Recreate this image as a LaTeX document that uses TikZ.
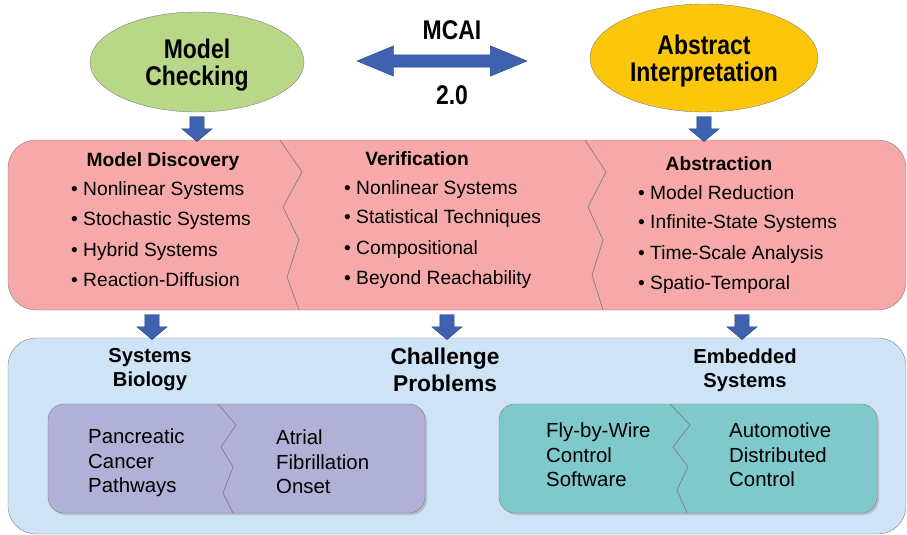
\documentclass[tikz,border=0pt]{standalone}
\usepackage{fontspec}
\setmainfont{Liberation Sans}
\newfontfamily\narrowfont[FakeStretch=0.85]{Liberation Sans}
\usetikzlibrary{shapes.geometric,shapes.arrows,shadows,calc}

\definecolor{mcgreen}{RGB}{184,215,135}
\definecolor{aiyellow}{RGB}{252,199,10}
\definecolor{arrblue}{RGB}{63,98,176}
\definecolor{arrdark}{RGB}{38,62,125}
\definecolor{boxpink}{RGB}{246,169,168}
\definecolor{boxblue}{RGB}{207,227,246}
\definecolor{boxpurple}{RGB}{177,176,214}
\definecolor{boxteal}{RGB}{127,200,203}
\definecolor{rimgray}{RGB}{128,128,128}

\tikzset{
  bubble/.style={ellipse, draw=rimgray, inner sep=0pt},
  bigtext/.style={align=center, inner sep=0pt,
    font=\narrowfont\bfseries\fontsize{27}{27}\selectfont},
  downarrow/.style={single arrow, rotate=-90, fill=arrblue, draw=arrdark,
    inner sep=0pt, inner ysep=7pt, minimum height=25pt,
    single arrow head extend=8pt, single arrow tip angle=100},
  panel/.style={rectangle, rounded corners=28pt, draw=rimgray, inner sep=0pt},
  casebox/.style={rectangle, rounded corners=16pt, draw=rimgray, inner sep=0pt,
    drop shadow={opacity=0.35, shadow xshift=2pt, shadow yshift=-2pt}},
  seam/.style={draw=rimgray, line width=0.7pt},
  head/.style={inner sep=0pt, font=\bfseries\fontsize{19.2}{23}\selectfont},
  item/.style={anchor=base west, inner sep=0pt, font=\fontsize{19.2}{23}\selectfont},
  group/.style={align=center, inner sep=0pt, font=\bfseries\fontsize{20.2}{24}\selectfont},
  case/.style={align=left, anchor=west, inner sep=0pt, font=\fontsize{20.4}{24.5}\selectfont},
}

\begin{document}
\begin{tikzpicture}[x=1pt,y=-1pt]
  \useasboundingbox (0,0) rectangle (907,535);

  % top: the two techniques
  \node[bubble, fill=mcgreen, minimum width=214pt, minimum height=100pt] (mc) at (197,62) {};
  \node[bigtext] (mclbl) at (197,65) {Model\\Checking};
  \node[bubble, fill=aiyellow, minimum width=228pt, minimum height=108pt] (ai) at (704,58) {};
  \node[bigtext] (ailbl) at (704,61) {Abstract\\Interpretation};
  \node[double arrow, fill=arrblue, draw=arrdark, inner sep=0pt, inner ysep=6pt,
        minimum height=170pt, double arrow head extend=9pt, double arrow tip angle=45] (link) at (442,61) {};
  \node[bigtext] (mcai) at (452,30) {MCAI};
  \node[bigtext] (ver20) at (452,95) {2.0};

  % research themes
  \node[panel, fill=boxpink, minimum width=898pt, minimum height=170pt] (pink) at (457,225) {};
  \draw[seam] (280,140) -- (302,172) -- (283,207) -- (299,240) -- (287,277) -- (299,310);
  \draw[seam] (585,140) -- (606,172) -- (588,207) -- (603,240) -- (592,275) -- (603,310);

  \node[head] (md) at (163,162) {Model Discovery};
  \node[item] (md1) at (71,195) {• Nonlinear Systems};
  \node[item] (md2) at (71,225) {• Stochastic Systems};
  \node[item] (md3) at (71,256) {• Hybrid Systems};
  \node[item] (md4) at (71,286) {• Reaction-Diffusion};

  \node[head] (vf) at (417,159) {Verification};
  \node[item] (vf1) at (344,194) {• Nonlinear Systems};
  \node[item] (vf2) at (344,223) {• Statistical Techniques};
  \node[item] (vf3) at (344,254) {• Compositional};
  \node[item] (vf4) at (344,284) {• Beyond Reachability};

  \node[head] (ab) at (719,164) {Abstraction};
  \node[item] (ab1) at (638,199) {• Model Reduction};
  \node[item] (ab2) at (638,228) {• Infinite-State Systems};
  \node[item] (ab3) at (638,259) {• Time-Scale Analysis};
  \node[item] (ab4) at (638,289) {• Spatio-Temporal};

  % challenge problems
  \node[panel, fill=boxblue, minimum width=898pt, minimum height=196pt] (blue) at (457,436) {};

  \node[group] (sb) at (150,370) {Systems\\Biology};
  \node[group, font=\bfseries\fontsize{22.8}{27}\selectfont] (cp) at (445,370) {Challenge\\Problems};
  \node[group] (es) at (745,370) {Embedded\\Systems};

  \node[casebox, fill=boxpurple, minimum width=377pt, minimum height=109pt] (bio) at (236.5,458.5) {};
  \draw[seam] (218,404) -- (236,425) -- (221,447) -- (233,467) -- (223,493) -- (233,513);
  \node[case] (pcp) at (88,463) {Pancreatic\\Cancer\\Pathways};
  \node[case] (afo) at (276,462) {Atrial\\Fibrillation\\Onset};

  \node[casebox, fill=boxteal, minimum width=378pt, minimum height=109pt] (emb) at (688,458.5) {};
  \draw[seam] (670,404) -- (690,425) -- (673,447) -- (688,467) -- (677,490) -- (687,513);
  \node[case] (fbw) at (546,455) {Fly-by-Wire\\Control\\Software};
  \node[case] (adc) at (729,455) {Automotive\\Distributed\\Control};

  % block arrows between the layers
  \node[downarrow] (a1) at ($(mc.south)!0.5!(mc.south |- pink.north)$) {};
  \node[downarrow] (a2) at ($(ai.south)!0.5!(ai.south |- pink.north)$) {};
  \node[downarrow] (a3) at ($(152,0 |- pink.south)!0.5!(152,0 |- blue.north)$) {};
  \node[downarrow] (a4) at ($(447,0 |- pink.south)!0.5!(447,0 |- blue.north)$) {};
  \node[downarrow] (a5) at ($(742,0 |- pink.south)!0.5!(742,0 |- blue.north)$) {};
\end{tikzpicture}
\end{document}
